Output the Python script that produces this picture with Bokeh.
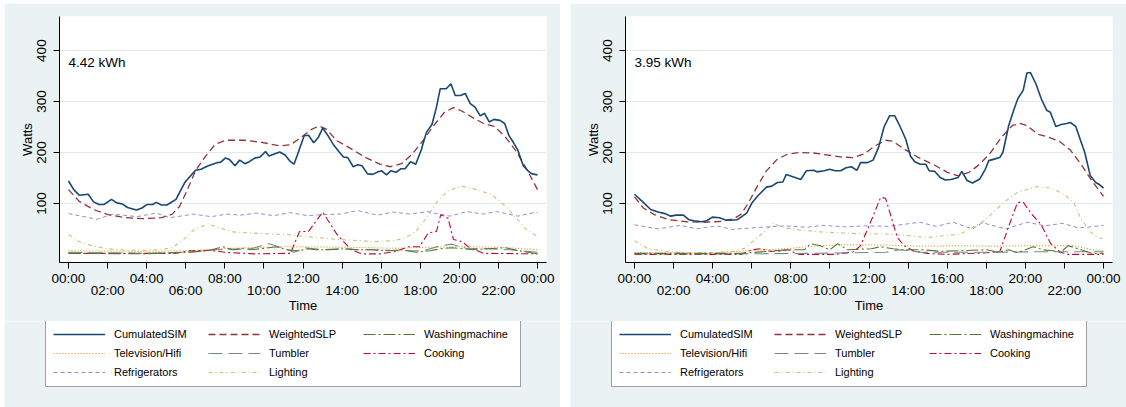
from bokeh.plotting import figure
from bokeh.models import Range1d, FixedTicker, LinearAxis, Legend, LegendItem, Label
from bokeh.layouts import row, column
from bokeh.embed import file_html
from bokeh.resources import INLINE

# ---------------------------------------------------------------- axes
TICKS_MAIN = [0, 4, 8, 12, 16, 20, 24]
TICK_LABELS_MAIN = ["00:00", "04:00", "08:00", "12:00", "16:00", "20:00", "00:00"]
TICKS_MID = [2, 6, 10, 14, 18, 22]
TICK_LABELS_MID = ["02:00", "06:00", "10:00", "14:00", "18:00", "22:00"]
Y_TICKS = [100, 200, 300, 400]

SERIES = ["CumulatedSIM", "WeightedSLP", "Washingmachine", "Television/Hifi",
          "Tumbler", "Cooking", "Refrigerators", "Lighting"]

# ---------------------------------------------------------------- household A (hours, watts)
A_TOTAL = "4.42 kWh"
A_SIM_T = [0.00, 0.27, 0.55, 1.01, 1.28, 1.56, 1.83, 2.20, 2.47, 2.75, 3.02, 3.48, 3.76, 4.03, 4.31,
           4.49, 4.76, 5.04, 5.50, 5.95, 6.50, 6.78, 7.15, 7.60, 7.79, 8.02, 8.24, 8.52, 8.76, 9.03,
           9.25, 9.53, 9.80, 10.08, 10.26, 10.53, 10.81, 11.08, 11.36, 11.54, 11.73, 12.06, 12.28,
           12.55, 12.79, 13.01, 13.28, 13.56, 13.83, 14.07, 14.29, 14.57, 14.80, 15.02, 15.30,
           15.57, 15.85, 16.03, 16.27, 16.49, 16.76, 17.00, 17.22, 17.50, 17.77, 18.05, 18.32,
           18.60, 18.83, 19.02, 19.33, 19.57, 19.79, 20.06, 20.30, 20.56, 20.80, 21.07, 21.29,
           21.53, 21.77, 22.08, 22.32, 22.54, 22.76, 22.99, 23.27, 23.54, 23.72, 24.00]
A_SIM_W = [144, 127, 116, 118, 103, 98, 98, 108, 101, 99, 92, 87, 91, 98, 98,
           102, 97, 97, 108, 141, 165, 167, 174, 180, 181, 189, 186, 174, 185, 178,
           182, 189, 191, 202, 193, 197, 201, 195, 182, 177, 197, 233, 234,
           219, 230, 248, 233, 215, 202, 191, 190, 172, 176, 174, 158,
           157, 162, 164, 156, 164, 161, 168, 168, 182, 177, 205, 240,
           255, 289, 325, 325, 335, 312, 312, 316, 296, 289, 272, 277,
           260, 265, 263, 257, 233, 220, 205, 174, 163, 158, 156]
A_SLP_T = [0.00, 0.55, 1.28, 2.02, 2.93, 3.85, 4.76, 5.31, 5.68, 6.05, 6.50, 6.96, 7.51, 8.06,
           8.98, 9.89, 10.81, 11.36, 11.91, 12.46, 12.83, 13.19, 13.74, 14.47, 15.21, 15.94,
           16.49, 17.04, 17.59, 18.14, 18.69, 19.24, 19.70, 20.15, 20.70, 21.25, 21.80, 22.35,
           22.90, 23.45, 24.00]
A_SLP_W = [127, 104, 88, 78, 72, 70, 72, 79, 94, 124, 164, 190, 216, 224,
           224, 220, 213, 215, 230, 246, 252, 246, 223, 207, 190, 177,
           172, 178, 197, 223, 253, 279, 288, 281, 268, 257, 251, 231,
           203, 167, 127]
A_WASH_T = [0.00, 3.85, 6.05, 7.15, 7.88, 8.43, 8.98, 9.34, 10.08, 10.63, 11.18, 11.73, 12.28,
            12.64, 13.38, 14.11, 14.84, 15.57, 16.31, 17.04, 17.77, 18.50, 19.05, 19.61, 20.15,
            20.70, 21.44, 22.35, 23.09, 24.00]
A_WASH_W = [2, 1, 4, 7, 15, 9, 12, 9, 12, 15, 9, 7, 11,
            9, 9, 11, 9, 9, 7, 9, 4, 7, 11, 13, 11,
            9, 11, 13, 7, 1]
A_TV_T = [0.00, 3.85, 6.05, 8.24, 11.18, 14.11, 16.67, 18.50, 20.34, 22.17, 24.00]
A_TV_W = [7, 6, 7, 12, 15, 14, 12, 14, 15, 14, 9]
A_TUMB_T = [0.00, 3.85, 6.05, 7.51, 9.34, 10.26, 10.99, 11.54, 12.09, 13.01, 13.92, 14.84,
            15.94, 16.67, 18.14, 19.05, 19.61, 20.34, 21.44, 22.54, 24.00]
A_TUMB_W = [4, 2, 4, 9, 11, 21, 12, 4, 13, 9, 11, 9,
            9, 7, 7, 17, 20, 12, 11, 9, 4]
A_COOK_T = [0.00, 5.50, 6.20, 7.30, 8.00, 9.50, 11.36, 11.82, 12.28, 13.01, 13.74, 14.47, 15.02,
            15.94, 16.67, 17.41, 17.96, 18.41, 18.83, 19.05, 19.42, 19.70, 20.15, 20.45, 21.25,
            24.00]
A_COOK_W = [2, 2, 7, 8, 4, 1, 2, 45, 45, 83, 39, 9, 1,
            1, 5, 15, 15, 42, 45, 78, 71, 29, 25, 15, 2,
            1]
A_FRIDGE_T = [0.00, 1.45, 2.30, 3.50, 4.50, 5.20, 6.40, 7.30, 8.10, 8.80, 9.60, 10.50, 11.35,
              12.20, 13.00, 13.90, 14.80, 15.80, 16.60, 17.50, 18.35, 19.50, 20.40, 21.20,
              21.90, 23.00, 23.80, 24.00]
A_FRIDGE_W = [80, 69, 79, 74, 81, 72, 79, 74, 79, 77, 81, 76, 82,
              76, 78, 79, 86, 77, 83, 79, 84, 75, 84, 79,
              84, 75, 82, 82]
A_LIGHT_T = [0.00, 0.55, 1.28, 2.02, 2.93, 3.85, 4.58, 5.31, 5.86, 6.41, 7.15, 7.70, 8.43, 9.34,
             10.26, 11.18, 12.09, 13.01, 13.92, 14.84, 15.76, 16.67, 17.22, 17.77, 18.32, 18.87,
             19.42, 20.15, 20.89, 21.62, 22.35, 22.90, 23.45, 24.00]
A_LIGHT_W = [39, 25, 16, 11, 8, 8, 9, 13, 28, 48, 60, 52, 44, 42,
             40, 39, 35, 32, 29, 27, 25, 27, 32, 45, 71, 104,
             125, 134, 127, 118, 95, 72, 48, 35]

# ---------------------------------------------------------------- household B (hours, watts)
B_TOTAL = "3.95 kWh"
B_SIM_T = [0.00, 0.37, 0.83, 1.20, 1.57, 1.85, 2.13, 2.50, 2.78, 3.05, 3.42, 3.70, 3.98, 4.35,
           4.63, 4.90, 5.27, 5.74, 6.01, 6.29, 6.75, 7.03, 7.31, 7.59, 7.77, 8.14, 8.51, 8.79,
           9.16, 9.34, 9.71, 9.99, 10.27, 10.55, 10.83, 11.10, 11.38, 11.57, 11.90, 12.21, 12.49,
           12.77, 13.05, 13.32, 13.60, 13.88, 14.12, 14.34, 14.62, 14.90, 15.08, 15.36, 15.64,
           15.91, 16.19, 16.56, 16.75, 17.02, 17.30, 17.67, 17.95, 18.13, 18.41, 18.69, 18.85,
           19.15, 19.43, 19.62, 19.89, 20.08, 20.26, 20.54, 20.82, 21.09, 21.28, 21.56, 21.84,
           22.11, 22.30, 22.58, 23.04, 23.32, 23.60, 23.79, 24.00]
B_SIM_W = [118, 105, 88, 83, 80, 75, 77, 77, 68, 66, 64, 66, 73, 72,
           68, 67, 68, 81, 101, 114, 132, 134, 141, 142, 157, 152, 147, 164,
           165, 162, 164, 167, 164, 164, 170, 172, 165, 180, 180, 185, 210,
           250, 272, 272, 250, 226, 193, 182, 177, 177, 164, 163, 151,
           146, 147, 151, 163, 145, 140, 148, 167, 184, 187, 190, 200,
           253, 286, 306, 322, 356, 357, 335, 305, 283, 279, 251, 255,
           257, 259, 251, 200, 155, 141, 137, 130]
B_SLP_T = [0.00, 0.46, 1.02, 1.76, 2.68, 3.61, 4.53, 5.09, 5.46, 5.83, 6.29, 6.75, 7.31, 7.86,
           8.42, 9.16, 9.90, 10.64, 11.20, 11.75, 12.31, 12.86, 13.23, 13.79, 14.53, 15.27,
           16.01, 16.56, 17.12, 17.67, 18.23, 18.78, 19.34, 19.71, 20.08, 20.63, 21.19, 21.74,
           22.30, 22.85, 23.41, 24.00]
B_SLP_W = [113, 91, 78, 68, 64, 63, 65, 70, 79, 101, 134, 164, 187, 197,
           200, 199, 195, 191, 190, 197, 213, 224, 222, 207, 190, 177,
           161, 154, 161, 177, 200, 230, 253, 257, 253, 236, 230, 222,
           205, 177, 144, 114]
B_WASH_T = [0.00, 5.50, 7.86, 8.70, 9.00, 9.50, 10.00, 10.40, 10.90, 12.12, 12.60, 13.23,
            13.79, 14.71, 15.64, 18.04, 18.60, 19.15, 19.60, 20.40, 20.90, 21.40, 21.80, 22.20,
            22.85, 23.41, 24.00]
B_WASH_W = [2, 2, 9, 9, 21, 17, 9, 21, 9, 11, 15, 11,
            9, 9, 6, 9, 4, 9, 3, 15, 9, 7, 4, 17,
            9, 2, 2]
B_TV_T = [0.00, 3.60, 5.00, 6.60, 7.70, 9.50, 11.00, 12.90, 14.70, 16.60, 18.40, 20.30, 22.50,
          23.30, 24.00]
B_TV_W = [4, 2, 5, 9, 11, 17, 19, 18, 16, 17, 16, 17, 17, 10, 7]
B_TUMB_T = [0.00, 5.46, 9.16, 12.86, 13.60, 14.71, 16.56, 18.41, 20.26, 22.11, 24.00]
B_TUMB_W = [1, 1, 2, 4, 9, 4, 4, 4, 5, 5, 5]
B_COOK_T = [0.00, 5.46, 6.01, 6.48, 6.94, 7.31, 7.86, 8.42, 10.27, 11.20, 11.57, 12.10, 12.60,
            12.85, 13.45, 13.80, 14.30, 15.00, 16.00, 18.00, 18.70, 19.15, 19.60, 19.90, 20.30,
            20.80, 21.30, 21.80, 22.20, 24.00]
B_COOK_W = [0, 0, 9, 11, 6, 6, 9, 0, 0, 5, 17, 65, 112,
            110, 33, 17, 6, 2, 0, 3, 6, 55, 102, 102, 80,
            59, 21, 4, 0, 0]
B_FRIDGE_T = [0.00, 1.20, 2.36, 3.20, 4.20, 5.00, 6.40, 7.70, 8.80, 9.60, 10.80, 11.80, 13.00,
              14.60, 15.45, 16.30, 17.30, 17.80, 19.00, 20.10, 21.00, 21.90, 22.70, 23.30, 24.00]
B_FRIDGE_W = [58, 50, 57, 50, 56, 49, 53, 56, 53, 57, 54, 56, 55,
              63, 55, 63, 50, 62, 50, 63, 56, 61, 52, 54, 57]
B_LIGHT_T = [0.00, 0.65, 1.57, 2.68, 3.98, 5.09, 5.64, 6.20, 6.75, 7.10, 7.68, 8.42, 9.53,
             10.64, 11.75, 12.86, 14.00, 15.00, 16.70, 17.90, 18.90, 19.60, 20.60, 21.30, 22.00,
             22.50, 22.80, 23.30, 23.70, 24.00]
B_LIGHT_W = [27, 12, 6, 3, 3, 6, 12, 30, 48, 61, 52, 48, 44,
             42, 40, 40, 37, 33, 40, 66, 102, 122, 133, 130, 118,
             100, 73, 45, 33, 31]

# ---------------------------------------------------------------- look
FONT = "Liberation Sans"
PANEL_BG = "#EAF2F3"
STYLE = {
    "CumulatedSIM":    dict(color="#1a476f", dash="solid",    width=1.6),
    "WeightedSLP":     dict(color="#90353b", dash="7 4",      width=1.3),
    "Washingmachine":  dict(color="#55752f", dash="12 3 2 3", width=1.1),
    "Television/Hifi": dict(color="#e37e00", dash="1 2",      width=1.0),
    "Tumbler":         dict(color="#6e8e84", dash="14 6",     width=1.1),
    "Cooking":         dict(color="#c10534", dash="7 3 2 3",  width=1.1),
    "Refrigerators":   dict(color="#938dd2", dash="4 3",      width=1.0),
    "Lighting":        dict(color="#cac27e", dash="4 3 1 3",  width=1.1),
}
DRAW_ORDER = ["Lighting", "Refrigerators", "Cooking", "Tumbler", "Television/Hifi",
              "Washingmachine", "WeightedSLP", "CumulatedSIM"]

PANEL_W = 556
MAIN_H = 318
KEY_H = 86


def style_axis(ax, line=True):
    ax.axis_line_color = "black" if line else None
    ax.major_label_text_font = FONT
    ax.major_label_text_font_size = "13.5px"
    ax.major_label_text_color = "black"
    ax.axis_label_text_font = FONT
    ax.axis_label_text_font_size = "13px"
    ax.axis_label_text_font_style = "normal"
    ax.axis_label_text_color = "black"
    ax.minor_tick_line_color = None
    ax.major_tick_in = 0


def make_panel(series, total, left_gap):
    p = figure(width=PANEL_W, height=MAIN_H, output_backend="svg", toolbar_location=None,
               x_range=Range1d(-0.46, 24.46), y_range=Range1d(-16, 467),
               min_border_left=55, min_border_right=14, min_border_top=13,
               min_border_bottom=59)
    p.frame_align = False
    p.margin = (3, 0, 0, left_gap)
    p.background_fill_color = "white"
    p.border_fill_color = PANEL_BG
    p.outline_line_color = None

    # y axis
    yax = p.yaxis[0]
    style_axis(yax)
    yax.ticker = FixedTicker(ticks=Y_TICKS)
    yax.axis_label = "Watts"
    yax.major_label_orientation = "vertical"
    yax.major_tick_out = 6
    yax.major_tick_line_color = "black"
    yax.major_label_standoff = 7
    yax.axis_label_standoff = 0
    p.ygrid.ticker = FixedTicker(ticks=Y_TICKS)
    p.ygrid.grid_line_color = "#E2EBED"
    p.xgrid.visible = False

    # x axis: ticks every two hours, labels staggered over two rows
    xax = p.xaxis[0]
    style_axis(xax)
    xax.ticker = FixedTicker(ticks=TICKS_MAIN + TICKS_MID)
    overrides = {t: lab for t, lab in zip(TICKS_MAIN, TICK_LABELS_MAIN)}
    overrides.update({t: "" for t in TICKS_MID})
    xax.major_label_overrides = overrides
    xax.major_tick_out = 6
    xax.major_tick_line_color = "black"
    xax.major_label_standoff = 2

    xax2 = LinearAxis(ticker=FixedTicker(ticks=TICKS_MID),
                      major_label_overrides={t: lab for t, lab in zip(TICKS_MID, TICK_LABELS_MID)},
                      major_tick_line_color=None, major_tick_out=0,
                      major_label_standoff=-6, axis_label="Time", axis_label_standoff=-3)
    style_axis(xax2, line=False)
    p.add_layout(xax2, "below")

    renderers = {}
    for name in DRAW_ORDER:
        t, w = series[name]
        st = STYLE[name]
        renderers[name] = p.line(t, w, line_color=st["color"], line_dash=st["dash"],
                                 line_width=st["width"])

    p.add_layout(Label(x=0, y=377, text=total, text_font=FONT, text_font_size="13.5px",
                       text_baseline="middle", text_align="left", text_color="black"))

    # key strip below the chart; its ranges lie far from the data, so only the legend shows
    k = figure(width=PANEL_W, height=KEY_H, output_backend="svg", toolbar_location=None,
               x_axis_type=None, y_axis_type=None,
               x_range=Range1d(-0.46, 24.46), y_range=Range1d(-2000, -1990),
               min_border=0, min_border_left=0, min_border_right=0,
               min_border_top=0, min_border_bottom=0)
    k.frame_align = False
    k.margin = (0, 0, 0, left_gap)
    k.background_fill_color = PANEL_BG
    k.border_fill_color = PANEL_BG
    k.outline_line_color = None
    k.xgrid.visible = False
    k.ygrid.visible = False
    key_renderers = {}
    for name in SERIES:
        t, w = series[name]
        st = STYLE[name]
        key_renderers[name] = k.line(t, w, line_color=st["color"], line_dash=st["dash"],
                                     line_width=st["width"])
    legend = Legend(items=[LegendItem(label=n, renderers=[key_renderers[n]]) for n in SERIES],
                    orientation="horizontal", ncols=3, location=(41, 20), margin=0,
                    padding=7, spacing=5, glyph_width=52, glyph_height=14,
                    label_width=89, label_height=14, label_standoff=9,
                    label_text_font=FONT, label_text_font_size="11px",
                    label_text_color="black", border_line_color="#404040",
                    border_line_width=1.2, background_fill_color="white",
                    background_fill_alpha=1.0)
    k.add_layout(legend)
    return column(p, k, spacing=0)


series_a = {
    "CumulatedSIM": (A_SIM_T, A_SIM_W), "WeightedSLP": (A_SLP_T, A_SLP_W),
    "Washingmachine": (A_WASH_T, A_WASH_W), "Television/Hifi": (A_TV_T, A_TV_W),
    "Tumbler": (A_TUMB_T, A_TUMB_W), "Cooking": (A_COOK_T, A_COOK_W),
    "Refrigerators": (A_FRIDGE_T, A_FRIDGE_W), "Lighting": (A_LIGHT_T, A_LIGHT_W),
}
series_b = {
    "CumulatedSIM": (B_SIM_T, B_SIM_W), "WeightedSLP": (B_SLP_T, B_SLP_W),
    "Washingmachine": (B_WASH_T, B_WASH_W), "Television/Hifi": (B_TV_T, B_TV_W),
    "Tumbler": (B_TUMB_T, B_TUMB_W), "Cooking": (B_COOK_T, B_COOK_W),
    "Refrigerators": (B_FRIDGE_T, B_FRIDGE_W), "Lighting": (B_LIGHT_T, B_LIGHT_W),
}

left = make_panel(series_a, A_TOTAL, 4)
right = make_panel(series_b, B_TOTAL, 10)
page = row(left, right, spacing=0)

open("out.html", "w").write(file_html(page, INLINE))
